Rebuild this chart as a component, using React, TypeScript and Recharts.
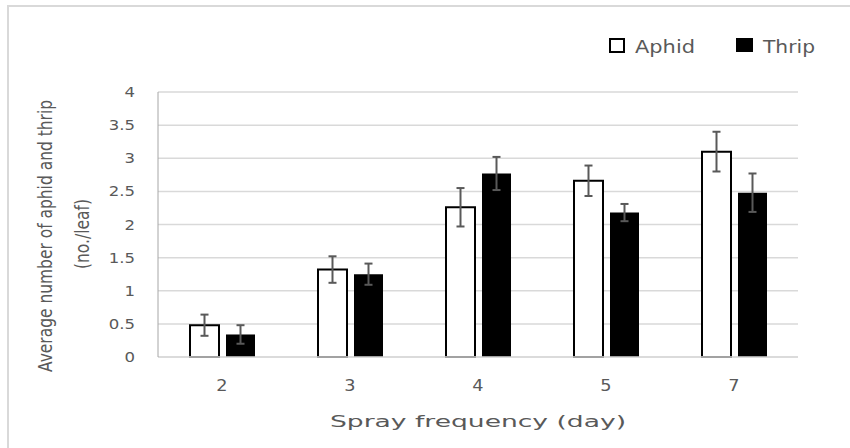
import React from 'react';
import { BarChart, Bar, XAxis, YAxis, CartesianGrid, ErrorBar } from 'recharts';

const categories = ['2', '3', '4', '5', '7'];
const aphid = [0.48, 1.32, 2.26, 2.66, 3.1];
const aphidErr = [0.16, 0.2, 0.29, 0.23, 0.3];
const thrip = [0.34, 1.25, 2.77, 2.18, 2.48];
const thripErr = [0.14, 0.16, 0.25, 0.13, 0.29];
const yTicks = [0, 0.5, 1, 1.5, 2, 2.5, 3, 3.5, 4];
const seriesNames = ['Aphid', 'Thrip'];
const xTitle = 'Spray frequency (day)';
const yTitle1 = 'Average number of aphid and thrip';
const yTitle2 = '(no./leaf)';

const data = categories.map((c, i) => ({
  cat: c,
  aphid: aphid[i],
  aphidErr: aphidErr[i],
  thrip: thrip[i],
  thripErr: thripErr[i],
}));

const FONT = "'DejaVu Sans', Verdana, sans-serif";
const TXT = '#595959';
const SX = 1.18;

const XTick = (props: any) => {
  const { x, y, payload } = props;
  return (
    <text
      x={0}
      y={0}
      dy="0.71em"
      textAnchor="middle"
      fill={TXT}
      fontSize={15}
      fontFamily={FONT}
      transform={`translate(${x} ${y}) scale(${SX} 1)`}
    >
      {payload.value}
    </text>
  );
};

const YTick = (props: any) => {
  const { x, y, payload } = props;
  return (
    <text
      x={0}
      y={0}
      dy="0.36em"
      textAnchor="end"
      fill={TXT}
      fontSize={14}
      fontFamily={FONT}
      transform={`translate(${x} ${y}) scale(${SX} 1)`}
    >
      {payload.value}
    </text>
  );
};

export default function App() {
  return (
    <div style={{ position: 'absolute', left: 0, top: 0, width: 850, height: 448, background: '#fff', overflow: 'hidden' }}>
      <div style={{ position: 'absolute', left: 8, top: 5, width: 842, height: 2, background: '#d9d9d9' }} />
      <div style={{ position: 'absolute', left: 7, top: 5, width: 2, height: 443, background: '#d9d9d9' }} />
      <div style={{ position: 'absolute', left: 0, top: 0 }}>
        <BarChart
          width={850}
          height={448}
          data={data}
          margin={{ top: 92, right: 52, bottom: 0, left: 0 }}
          barSize={29}
          barGap={7}
        >
          <CartesianGrid vertical={false} stroke="#d9d9d9" strokeWidth={1.5} />
          <XAxis
            dataKey="cat"
            height={91}
            tickLine={false}
            tickSize={0}
            tickMargin={23}
            axisLine={{ stroke: '#d9d9d9', strokeWidth: 1.5 }}
            tick={<XTick />}
          />
          <XAxis xAxisId="top" dataKey="cat" orientation="top" height={0} tick={false} tickLine={false} axisLine={{ stroke: '#bfbfbf', strokeWidth: 1 }} />
          <YAxis
            width={158}
            domain={[0, 4]}
            ticks={yTicks}
            tickLine={false}
            tickSize={0}
            tickMargin={23}
            axisLine={{ stroke: '#a6a6a6', strokeWidth: 1 }}
            tick={<YTick />}
          />
          <YAxis yAxisId="r" orientation="right" width={0} tick={false} tickLine={false} axisLine={{ stroke: '#a6a6a6', strokeWidth: 1 }} />
          <Bar dataKey="aphid" name={seriesNames[0]} fill="#ffffff" stroke="#000000" strokeWidth={2} isAnimationActive={false}>
            <ErrorBar dataKey="aphidErr" width={4} stroke="#595959" strokeWidth={2} direction="y" />
          </Bar>
          <Bar dataKey="thrip" name={seriesNames[1]} fill="#000000" isAnimationActive={false}>
            <ErrorBar dataKey="thripErr" width={4} stroke="#595959" strokeWidth={2} direction="y" />
          </Bar>
        </BarChart>
      </div>
      <svg width={850} height={448} style={{ position: 'absolute', left: 0, top: 0, pointerEvents: 'none' }}>
        <g fontFamily={FONT} fill={TXT}>
          <rect x={610} y={39} width={14} height={13} fill="#fff" stroke="#000" strokeWidth={2} />
          <text x={635} y={53} fontSize={17} textLength={60} lengthAdjust="spacingAndGlyphs">{seriesNames[0]}</text>
          <rect x={736} y={38} width={17} height={14} fill="#000" />
          <text x={763} y={53} fontSize={17} textLength={52} lengthAdjust="spacingAndGlyphs">{seriesNames[1]}</text>
          <text x={478} y={427} fontSize={16} textAnchor="middle" textLength={296} lengthAdjust="spacingAndGlyphs">{xTitle}</text>
          <g transform="translate(45 236) scale(1.3 1) rotate(-90)">
            <text x={0} y={0} fontSize={15.5} textAnchor="middle" dominantBaseline="central" textLength={272} lengthAdjust="spacingAndGlyphs">{yTitle1}</text>
          </g>
          <g transform="translate(82 234) scale(1.3 1) rotate(-90)">
            <text x={0} y={0} fontSize={15.5} textAnchor="middle" dominantBaseline="central">{yTitle2}</text>
          </g>
        </g>
      </svg>
    </div>
  );
}
